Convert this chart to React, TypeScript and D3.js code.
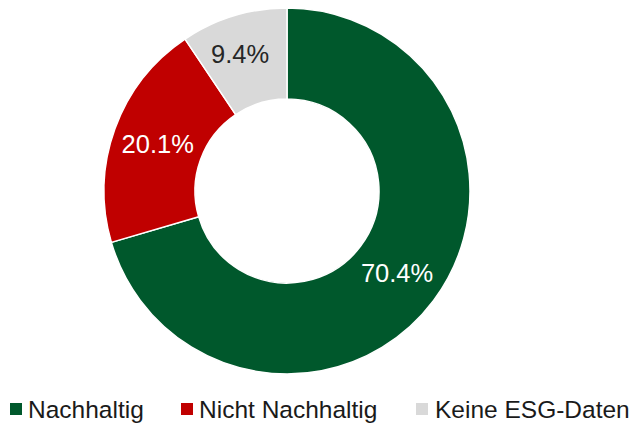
import React from "react";
import * as d3 from "d3";

const categories = ["Nachhaltig", "Nicht Nachhaltig", "Keine ESG-Daten"];
const values = [70.4, 20.1, 9.4];
const labels = ["70.4%", "20.1%", "9.4%"];
const colors = ["#00582C", "#C00000", "#D9D9D9"];
const labelColors = ["#FFFFFF", "#FFFFFF", "#262626"];

const W = 633;
const H = 424;
const cx = 287;
const cy = 191;
const outerR = 183;
const innerR = 92;

export default function App() {
  const pie = d3.pie<number>().sort(null).value((d) => d);
  const arcs = pie(values);
  const arc = d3.arc<d3.PieArcDatum<number>>().innerRadius(innerR).outerRadius(outerR);
  const font = "'Liberation Sans', Arial, Helvetica, sans-serif";

  // label placement: centroid, except the small slice which sits nearer the top
  const labelPos = arcs.map((a, i) => {
    if (i === 2) {
      const ang = a.endAngle - 0.33;
      const r = 145;
      return [Math.sin(ang) * r, -Math.cos(ang) * r];
    }
    return arc.centroid(a);
  });

  const legendX = [10, 181, 416];
  const legendText = [28, 199, 435];

  return (
    <svg width={W} height={H} style={{ position: "absolute", left: 0, top: 0 }}>
      <rect width={W} height={H} fill="#fff" />
      <g transform={`translate(${cx},${cy})`}>
        {arcs.map((a, i) => (
          <path key={i} d={arc(a) || ""} fill={colors[i]} stroke="#fff" strokeWidth={1.5} />
        ))}
        {arcs.map((a, i) => (
          <text
            key={i}
            x={labelPos[i][0]}
            y={labelPos[i][1]}
            textAnchor="middle"
            dominantBaseline="central"
            fontFamily={font}
            fontSize={25.5}
            fill={labelColors[i]}
          >
            {labels[i]}
          </text>
        ))}
      </g>
      {categories.map((c, i) => (
        <g key={c}>
          <rect x={legendX[i]} y={403} width={12} height={12} fill={colors[i]} />
          <text x={legendText[i]} y={418} fontFamily={font} fontSize={24.5} fill="#1a1a1a">
            {c}
          </text>
        </g>
      ))}
    </svg>
  );
}
